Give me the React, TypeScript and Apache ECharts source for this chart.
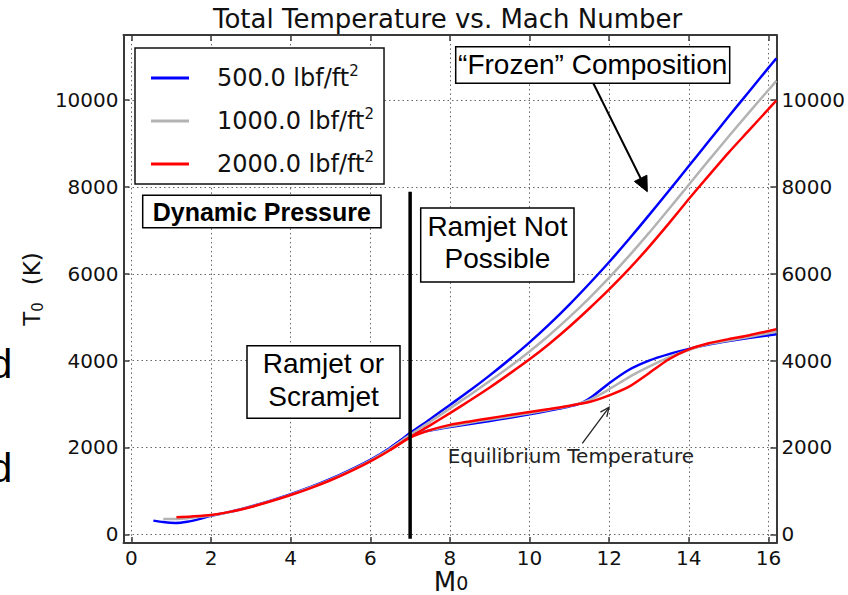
import React, { useEffect, useRef } from 'react';
import * as echarts from 'echarts';

// ---- data ----
const xTicks = [0, 2, 4, 6, 8, 10, 12, 14, 16];
const yTicks = [0, 2000, 4000, 6000, 8000, 10000];
const pressureNames = ['500.0 lbf/ft²', '1000.0 lbf/ft²', '2000.0 lbf/ft²'];
const pressureColors = ['#0000ff', '#b3b3b3', '#ff0000'];

const frozen500: [number, number][] = [[0.55,315],[0.8,282],[1.1,262],[1.4,290],[1.7,350],[2,425],[2.5,522],[3,642],[3.5,776],[4,925],[4.5,1090],[5,1275],[5.5,1485],[6,1715],[6.5,1995],[7,2330],[7.5,2650],[8,2980],[8.5,3310],[9,3660],[9.5,4030],[10,4420],[10.5,4840],[11,5290],[11.5,5770],[12,6270],[12.5,6800],[13,7350],[13.5,7910],[14,8480],[14.5,9050],[15,9620],[15.5,10180],[16,10740],[16.2,10960]];
const frozen1000: [number, number][] = [[0.8,352],[1.1,352],[1.5,380],[2,432],[2.5,520],[3,636],[3.5,768],[4,915],[4.5,1078],[5,1260],[5.5,1468],[6,1698],[6.5,1968],[7,2290],[7.5,2590],[8,2900],[8.5,3210],[9,3530],[9.5,3860],[10,4210],[10.5,4590],[11,5000],[11.5,5440],[12,5910],[12.5,6410],[13,6940],[13.5,7490],[14,8050],[14.5,8610],[15,9160],[15.5,9700],[16,10230],[16.2,10440]];
const frozen2000: [number, number][] = [[1.13,392],[1.5,410],[2,445],[2.5,522],[3,630],[3.5,760],[4,905],[4.5,1065],[5,1245],[5.5,1450],[6,1678],[6.5,1942],[7,2240],[7.5,2510],[8,2790],[8.5,3080],[9,3380],[9.5,3700],[10,4030],[10.5,4390],[11,4780],[11.5,5200],[12,5640],[12.5,6110],[13,6620],[13.5,7160],[14,7720],[14.5,8260],[15,8790],[15.5,9290],[16,9790],[16.2,9990]];

const equil500: [number, number][] = [[6.5,1995],[7,2290],[7.5,2390],[8,2470],[8.5,2540],[9,2610],[9.5,2685],[10,2765],[10.5,2850],[11,2945],[11.3,3020],[11.6,3190],[12,3480],[12.5,3790],[13,4000],[13.5,4150],[14,4270],[14.5,4370],[15,4450],[15.5,4520],[16.2,4605]];
const equil1000: [number, number][] = [[6.5,1968],[7,2265],[7.5,2395],[8,2490],[8.5,2570],[9,2645],[9.5,2715],[10,2790],[10.5,2870],[11,2955],[11.5,3090],[12,3340],[12.5,3620],[13,3860],[13.5,4075],[14,4245],[14.5,4380],[15,4465],[15.5,4545],[16.2,4665]];
const equil2000: [number, number][] = [[6.5,1942],[7,2225],[7.5,2400],[8,2520],[8.5,2600],[9,2675],[9.5,2745],[10,2815],[10.5,2885],[11,2960],[11.5,3045],[12,3200],[12.5,3400],[13,3710],[13.5,4030],[14,4260],[14.5,4400],[15,4495],[15.5,4580],[16.2,4720]];

const ramjetLimit: [number, number][] = [[7, -100], [7, 7890]];

const curveSets = [
  { idx: 0, data: frozen500 },
  { idx: 0, data: equil500 },
  { idx: 1, data: frozen1000 },
  { idx: 1, data: equil1000 },
  { idx: 2, data: frozen2000 },
  { idx: 2, data: equil2000 },
];

const DV = 'DejaVu Sans';
const AR = 'Liberation Sans, Arial';
const frameColor = '#3a3a3a';

const baseAxis = (ticks: number[], showGrid: boolean, showLabel: boolean) => ({
  type: 'value' as const,
  axisLine: { show: true, onZero: false, lineStyle: { color: frameColor, width: 2 } },
  axisTick: { show: true, inside: true, length: 6, customValues: ticks, lineStyle: { color: frameColor, width: 1.5 } },
  axisLabel: {
    show: showLabel,
    customValues: ticks,
    fontFamily: DV,
    fontSize: 20,
    lineHeight: 20,
    color: '#111',
    margin: 5,
    formatter: (v: number) => String(v),
  },
  splitLine: { show: showGrid, lineStyle: { color: '#666', width: 1, type: [1.5, 3] } },
});

function boxText(x: number, y: number, w: number, h: number) {
  return { type: 'rect', z: 100, shape: { x, y, width: w, height: h }, style: { fill: '#fff', stroke: '#000', lineWidth: 1.5 } };
}
function label(text: string, x: number, y: number, size: number, family: string, weight = 'normal', color = '#000') {
  return {
    type: 'text', z: 101, x, y,
    style: { text, fontSize: size, fontFamily: family, fontWeight: weight, fill: color, align: 'center', verticalAlign: 'middle', textAlign: 'center', textVerticalAlign: 'middle' },
  };
}

export default function App() {
  const ref = useRef<HTMLDivElement>(null);
  useEffect(() => {
    const chart = echarts.init(ref.current!, null, { renderer: 'svg' });
    const series: any[] = curveSets.map((c) => ({
      type: 'line',
      name: pressureNames[c.idx],
      data: c.data,
      xAxisIndex: 0,
      yAxisIndex: 0,
      showSymbol: false,
      symbol: 'none',
      smooth: 0.25,
      silent: true,
      color: pressureColors[c.idx],
      itemStyle: { color: pressureColors[c.idx] },
      lineStyle: { color: pressureColors[c.idx], width: 2.5 },
    }));
    series.push({
      type: 'line',
      name: 'limit',
      data: ramjetLimit,
      showSymbol: false,
      symbol: 'none',
      silent: true,
      lineStyle: { color: '#000', width: 3.5 },
      itemStyle: { color: '#000' },
      z: 5,
    });

    const option: any = {
      animation: false,
      backgroundColor: '#fff',
      title: {
        text: 'Total Temperature vs. Mach Number',
        left: 213,
        top: 6,
        padding: 0,
        textStyle: { fontFamily: DV, fontSize: 26, fontWeight: 'normal', color: '#111', lineHeight: 26 },
      },
      legend: {
        data: pressureNames,
        orient: 'vertical',
        left: 135,
        top: 48,
        padding: [15, 10, 8, 16],
        itemGap: 16,
        itemWidth: 38,
        itemHeight: 3,
        icon: 'rect',
        backgroundColor: '#fff',
        borderColor: '#111',
        borderWidth: 1.5,
        borderRadius: 0,
        selectedMode: false,
        z: 50,
        formatter: (name: string) => `{t|${name.replace('²', '')}}{s|2}`,
        textStyle: {
          fontFamily: DV,
          fontSize: 24,
          color: '#111',
          rich: {
            t: { fontFamily: DV, fontSize: 24, color: '#111', lineHeight: 30, padding: [0, 0, 0, 23] },
            s: { fontFamily: DV, fontSize: 15, color: '#111', lineHeight: 19, verticalAlign: 'top' },
          },
        },
      },
      grid: { left: 123.5, right: 69.5, top: 34.9, bottom: 52, containLabel: false },
      xAxis: [
        { ...baseAxis(xTicks, true, true), position: 'bottom', min: -0.2, max: 16.2 },
        { ...baseAxis(xTicks, false, false), position: 'top', min: -0.2, max: 16.2 },
      ],
      yAxis: [
        { ...baseAxis(yTicks, true, true), position: 'left', min: -200, max: 11500 },
        { ...baseAxis(yTicks, false, true), position: 'right', min: -200, max: 11500 },
      ],
      series,
      graphic: [
        // y axis title
        {
          type: 'text', x: 32, y: 289, rotation: Math.PI / 2,
          style: {
            text: '{t|T}{s|0}{k|(K)}', fontFamily: DV, fill: '#111', align: 'center', verticalAlign: 'middle', textAlign: 'center', textVerticalAlign: 'middle',
            rich: {
              t: { fontSize: 23, fontFamily: DV, fill: '#111', lineHeight: 26 },
              s: { fontSize: 15, fontFamily: DV, fill: '#111', lineHeight: 17, verticalAlign: 'bottom' },
              k: { fontSize: 23, fontFamily: DV, fill: '#111', lineHeight: 26, padding: [0, 0, 0, 17] },
            },
          },
        },
        // x axis title
        {
          type: 'text', x: 451, y: 581.5,
          style: {
            text: '{m|M}{s|0}', fontFamily: DV, fill: '#111', align: 'center', verticalAlign: 'middle', textAlign: 'center', textVerticalAlign: 'middle',
            rich: {
              m: { fontSize: 26, fontFamily: DV, fill: '#111', lineHeight: 22 },
              s: { fontSize: 19, fontFamily: DV, fill: '#111', lineHeight: 15, verticalAlign: 'bottom' },
            },
          },
        },
        // remnants of slide text
        { type: 'text', x: -10.5, y: 363.6, style: { text: 'd', fontSize: 41, fontFamily: AR, fill: '#000', align: 'left', verticalAlign: 'middle', textAlign: 'left', textVerticalAlign: 'middle' } },
        { type: 'text', x: -10.5, y: 467.6, style: { text: 'd', fontSize: 41, fontFamily: AR, fill: '#000', align: 'left', verticalAlign: 'middle', textAlign: 'left', textVerticalAlign: 'middle' } },
        // annotation boxes
        boxText(455.7, 46.7, 274, 36.6),
        label('“Frozen” Composition', 592.7, 64.5, 28, AR),
        boxText(420.7, 208, 153.3, 74),
        label('Ramjet Not', 497.4, 226.7, 28, AR),
        label('Possible', 497.4, 258.3, 28, AR),
        boxText(247, 345.7, 153, 72.6),
        label('Ramjet or', 323.5, 363.3, 28, AR),
        label('Scramjet', 323.5, 396, 28, AR),
        boxText(142.7, 195.3, 238.3, 32.4),
        label('Dynamic Pressure', 261.8, 211.7, 25, AR, 'bold'),
        // arrows
        { type: 'line', z: 100, shape: { x1: 593.3, y1: 83.3, x2: 640.6, y2: 178.3 }, style: { stroke: '#000', lineWidth: 2 } },
        { type: 'polygon', z: 100, shape: { points: [[647.3, 191.7], [634.4, 181.4], [646.9, 175.2]] }, style: { fill: '#000', stroke: '#000', lineWidth: 1 } },
        { type: 'line', z: 100, shape: { x1: 582.3, y1: 443.3, x2: 609, y2: 407.3 }, style: { stroke: '#222', lineWidth: 1.3 } },
        { type: 'polyline', z: 100, shape: { points: [[600.4, 412.1], [609, 407.3], [606.8, 416.9]] }, style: { stroke: '#222', lineWidth: 1.3, fill: 'none' } },
        label('Equilibrium Temperature', 570.8, 455.8, 20, DV, 'normal', '#222'),
      ],
    };
    chart.setOption(option);
    return () => chart.dispose();
  }, []);
  return <div ref={ref} style={{ position: 'absolute', left: 0, top: 0, width: 848, height: 595, background: '#fff' }} />;
}
